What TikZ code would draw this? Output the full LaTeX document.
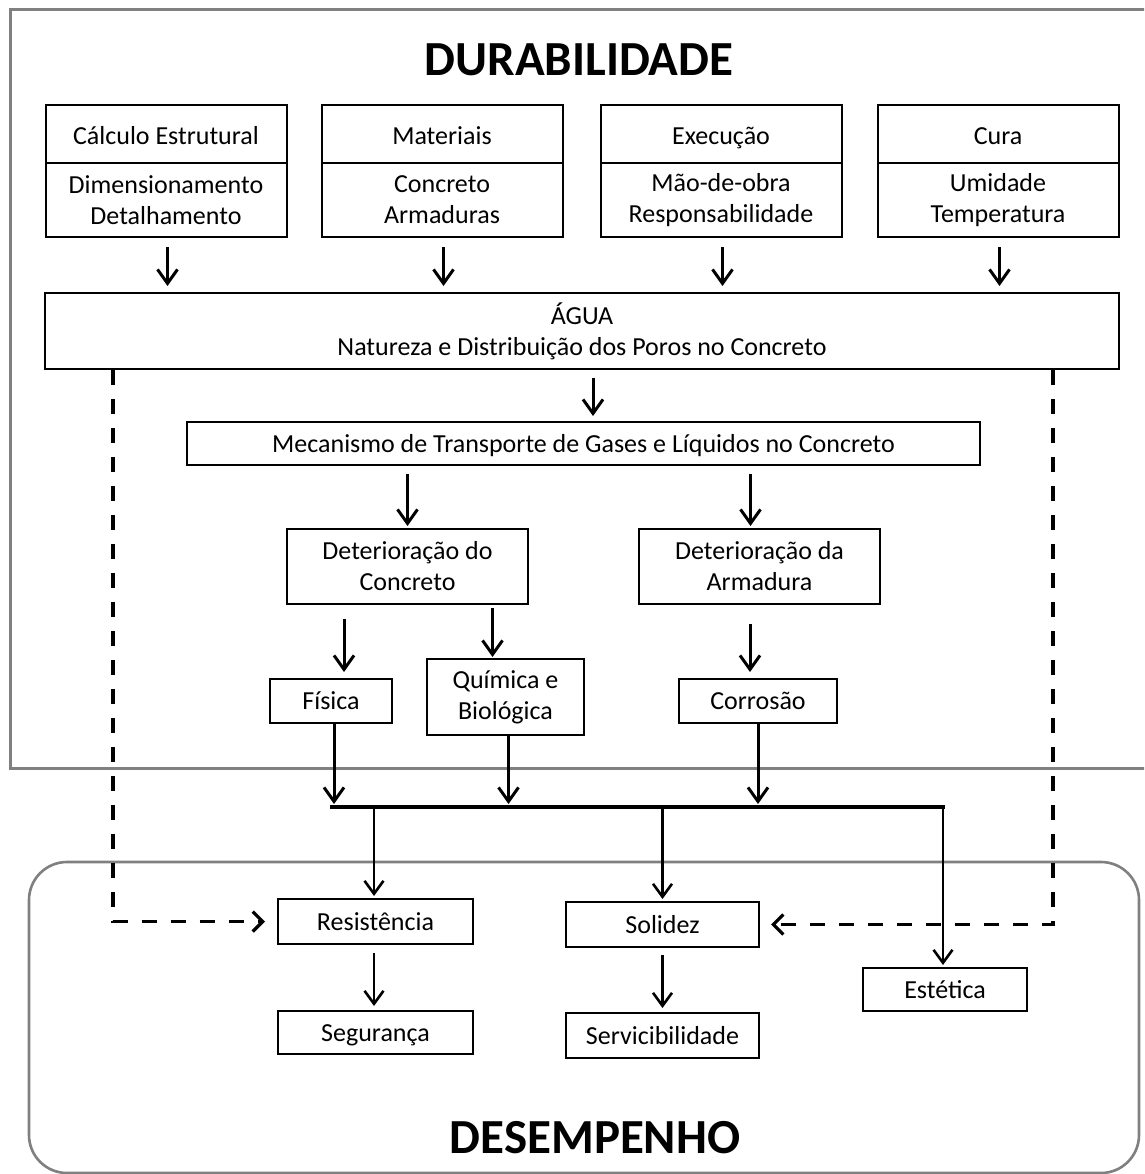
\documentclass[tikz,border=0pt]{standalone}
\usepackage{fontspec}
\setmainfont{Carlito}
\usetikzlibrary{arrows.meta}
\newcommand\fsbody{\fontsize{26}{31}\selectfont}
\newcommand\fstitle{\fontsize{49}{55}\selectfont\bfseries}
\definecolor{framegray}{HTML}{808080}
\tikzset{
  box/.style={draw=black, line width=2pt, inner sep=0pt, align=center, font=\fsbody},
  one/.style={text height=20pt, text depth=3pt},
  onelow/.style={text height=24pt, text depth=2pt},
  arr/.style={line width=3pt, -{Straight Barb[length=14pt,width=20pt,line width=3pt]}},
  arrb/.style={line width=2.4pt, -{Straight Barb[length=13pt,width=19pt,line width=2.6pt]}},
  dasharr/.style={line width=3.4pt, dash pattern=on 15pt off 14pt, -{Straight Barb[length=10pt,width=20pt,line width=3.2pt]}},
  frame/.style={draw=framegray, line width=3pt},
  title/.style={inner sep=0pt, font=\fstitle}
}
\begin{document}
\begin{tikzpicture}[x=1pt,y=-1pt]
\clip (0,0) rectangle (1144,1174);
\fill[white] (0,0) rectangle (1144,1174);
% frames
\draw[frame] (10,10) rectangle (1170,768);
\draw[frame, line width=2.6pt, rounded corners=38pt] (29,862) rectangle (1139,1173);
% titles
\node[title] (tdur) at (579,60) {DURABILIDADE};
\node[title] (tdes) at (595,1138) {DESEMPENHO};
% top boxes
\foreach \n/\cx/\htxt/\btxt in {1/166/{Cálculo Estrutural}/{Dimensionamento\\Detalhamento},
                             2/442/{Materiais}/{Concreto\\Armaduras},
                             3/721/{Execução}/{Mão-de-obra\\Responsabilidade},
                             4/998/{Cura}/{Umidade\\Temperatura}}{
  \node[box, onelow, minimum width=241pt, minimum height=58pt] (h\n) at (\cx,134) {\htxt};
  \node[box, minimum width=241pt, minimum height=74pt] (b\n) at (\cx,200) {\btxt};
}
\node[box, minimum width=1074pt, minimum height=76pt] (agua) at (582,331) {ÁGUA\\Natureza e Distribuição dos Poros no Concreto};
\node[box, one, minimum width=793pt, minimum height=43pt] (mec) at (583.5,443.5) {Mecanismo de Transporte de Gases e Líquidos no Concreto};
\node[box, minimum width=241pt, minimum height=75pt] (detc) at (407.5,566.5) {Deterioração do\\Concreto};
\node[box, minimum width=241pt, minimum height=75pt] (deta) at (759.5,566.5) {Deterioração da\\Armadura};
\node[box, one, minimum width=122pt, minimum height=44pt] (fis) at (331,701) {Física};
\node[box, minimum width=157pt, minimum height=76pt] (qui) at (505.5,697) {Química e\\Biológica};
\node[box, one, minimum width=158pt, minimum height=44pt] (cor) at (758,701) {Corrosão};
\node[box, one, minimum width=195pt, minimum height=45pt] (res) at (375.5,921.5) {Resistência};
\node[box, one, minimum width=193pt, minimum height=45pt] (sol) at (662.5,924.5) {Solidez};
\node[box, one, minimum width=164pt, minimum height=43pt] (est) at (945,989.5) {Estética};
\node[box, one, minimum width=195pt, minimum height=43pt] (seg) at (375.5,1032.5) {Segurança};
\node[box, one, minimum width=193pt, minimum height=45pt] (ser) at (662.5,1035.5) {Servicibilidade};
% coordinates
\coordinate (bl) at (331,807);
\coordinate (br) at (943,807);
\coordinate (dl) at (113,920);
\coordinate (dr) at (1053,925);
% arrows top boxes -> agua
\foreach \n in {1,2,3,4}{
  \draw[arr, shorten <=9pt, shorten >=6pt] ([xshift=1.5pt]b\n.south) -- ([xshift=1.5pt]b\n.south |- agua.north);
}
\draw[arr, shorten <=8pt, shorten >=5pt] ([xshift=11pt]agua.south) -- ([xshift=11pt]agua.south |- mec.north);
\draw[arr, shorten <=8pt, shorten >=2pt] (detc.north |- mec.south) -- (detc.north);
\draw[arr, shorten <=8pt, shorten >=2pt] ([xshift=-9pt]deta.north |- mec.south) -- ([xshift=-9pt]deta.north);
\draw[arr, shorten <=14pt, shorten >=6pt] ([xshift=13pt]fis.north |- detc.south) -- ([xshift=13pt]fis.north);
\draw[arr, shorten <=3pt, shorten >=1pt] ([xshift=-13pt]qui.north |- detc.south) -- ([xshift=-13pt]qui.north);
\draw[arr, shorten <=19pt, shorten >=6pt] ([xshift=-8pt]cor.north |- deta.south) -- ([xshift=-8pt]cor.north);
% to bar
\draw[arr, shorten >=3pt] ([xshift=3pt]fis.south) -- ([xshift=3pt]fis.south |- bl);
\draw[arr, shorten >=3pt] ([xshift=3pt]qui.south) -- ([xshift=3pt]qui.south |- bl);
\draw[arr, shorten >=3pt] (cor.south) -- (cor.south |- bl);
\draw[line width=3.8pt] ([xshift=-1pt]bl) -- ([xshift=1.5pt]br);
% from bar
\draw[arrb, shorten >=2pt] ([xshift=-1.5pt]res.north |- bl) -- ([xshift=-1.5pt]res.north);
\draw[arrb, shorten >=2pt] (sol.north |- bl) -- (sol.north);
\draw[arrb, shorten >=2pt] (br) -- (br |- est.north);
\draw[arrb, shorten <=8pt, shorten >=4pt] ([xshift=-1.5pt]res.south) -- ([xshift=-1.5pt]seg.north);
\draw[arrb, shorten <=7pt, shorten >=4pt] (sol.south) -- (ser.north);
% dashed
\draw[dasharr, shorten >=12pt] (agua.south -| dl) |- (res.west);
\draw[dasharr, shorten >=11pt] (agua.south -| dr) |- (sol.east);
\end{tikzpicture}
\end{document}
